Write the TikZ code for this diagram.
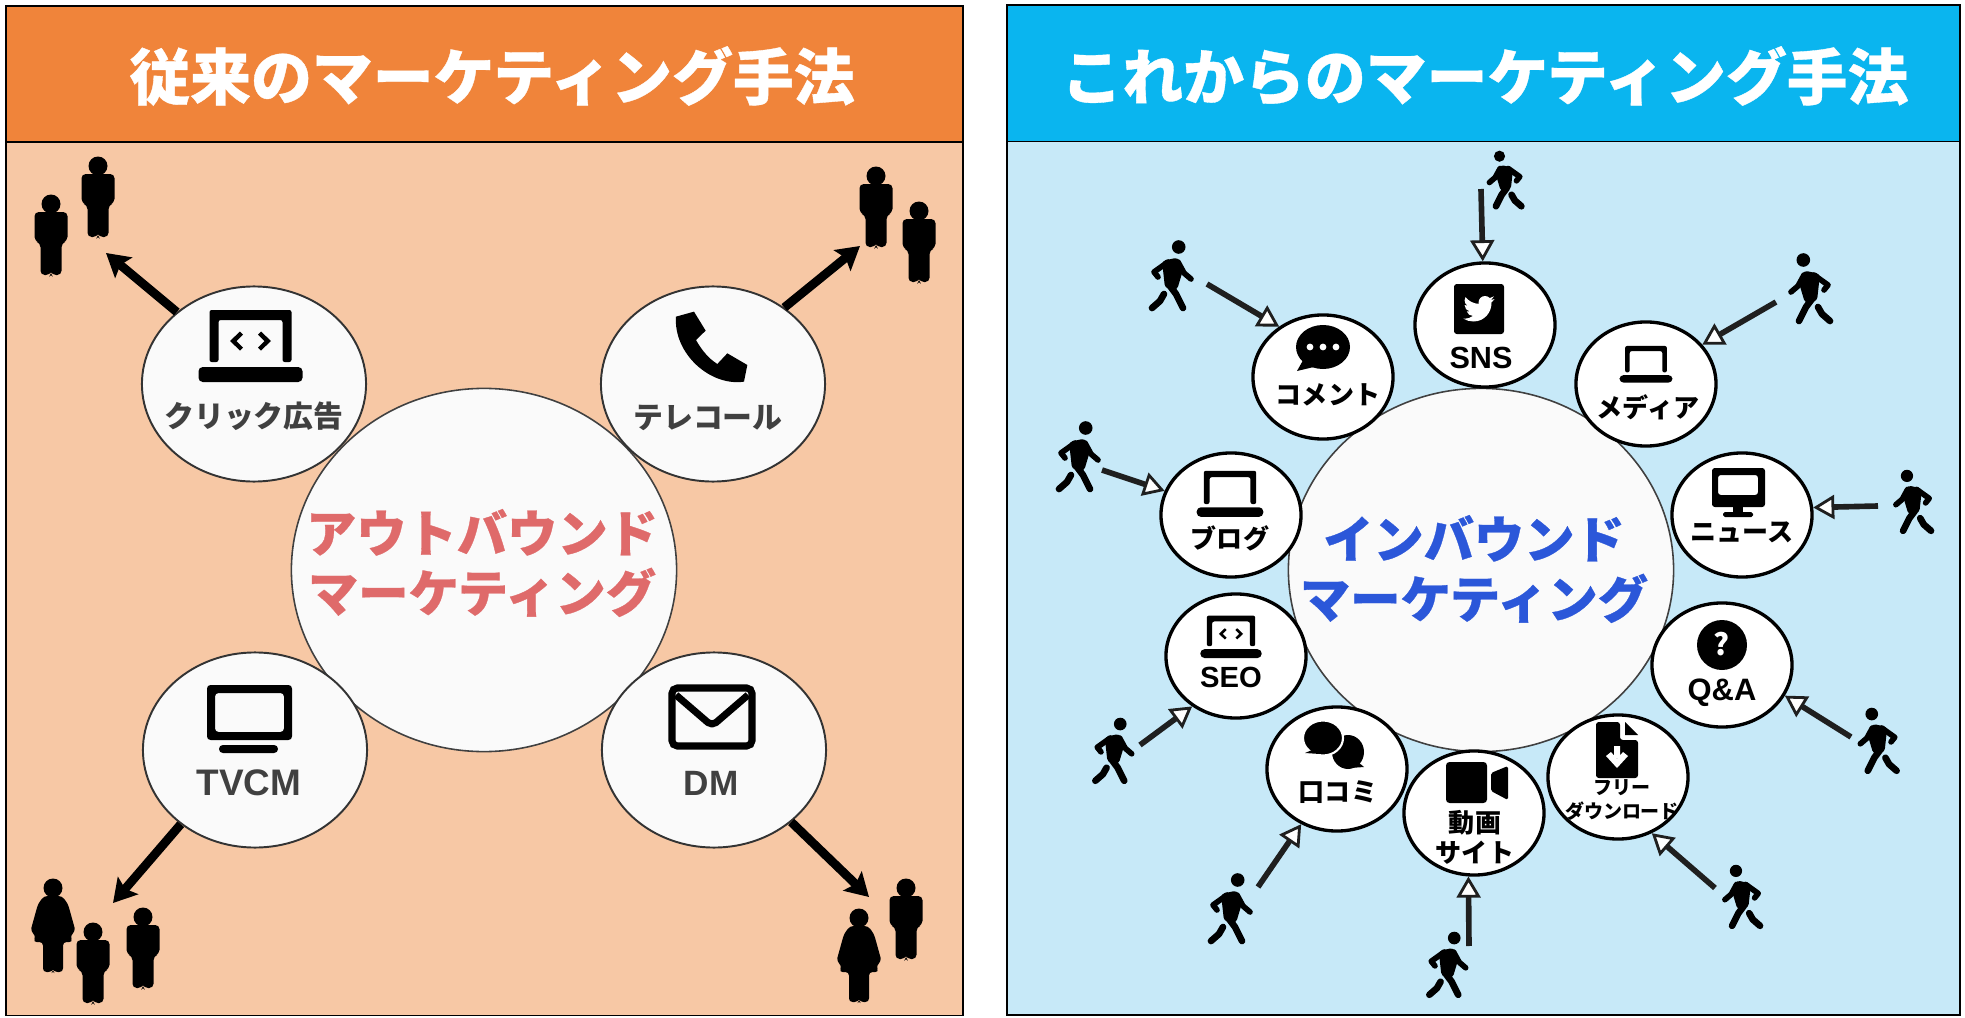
\documentclass[tikz,border=0pt]{standalone}
\usepackage{fontspec}
\setmainfont{Noto Sans CJK JP}
\newfontfamily\heavyfont{Noto Sans CJK JP}[BoldFeatures={FakeBold=0.6}]
\newfontfamily\latinfont{Liberation Sans}
\usetikzlibrary{arrows.meta,shapes.geometric}
\definecolor{oldhead}{HTML}{F0843A}
\definecolor{oldbody}{HTML}{F7C8A5}
\definecolor{newhead}{HTML}{0AB5EF}
\definecolor{newbody}{HTML}{C7E9F8}
\definecolor{softwhite}{HTML}{FAFAFA}
\definecolor{oldtext}{HTML}{404040}
\definecolor{outcolor}{HTML}{DF6A6A}
\definecolor{incolor}{HTML}{2B57D9}
\tikzset{
	panel/.style={draw=black, line width=0.45pt, rectangle, inner sep=0pt},
	titlebar/.style={text=white, font=\heavyfont\bfseries\fontsize{17.3}{20}\selectfont},
	hub/.style={draw=black!75, line width=0.45pt, ellipse, fill=softwhite, inner sep=0pt, minimum width=3.85cm, minimum height=3.63cm},
	oldsat/.style={draw=black!80, line width=0.55pt, ellipse, fill=softwhite, inner sep=0pt, minimum width=2.24cm, minimum height=1.95cm},
	newsat/.style={draw=black, line width=0.95pt, ellipse, fill=white, inner sep=0pt, minimum width=1.4cm, minimum height=1.24cm},
	hubtext/.style={align=center, font=\heavyfont\bfseries\fontsize{14.3}{17}\selectfont},
	oldtag/.style={text=oldtext, font=\fontsize{8.5}{10}\bfseries\selectfont},
	newtag/.style={align=center, font=\fontsize{7.4}{8.6}\bfseries\selectfont},
	pushline/.style={line width=2.5pt, -{Stealth[length=6.5pt,width=7.5pt,inset=1.2pt]}},
	pullline/.style={draw=black!88, line width=1.6pt, -{Triangle[open,fill=white,length=6pt,width=6.8pt,line width=0.8pt]}},
	man/.pic={
		\fill (0,0) circle[radius=9.5];
		\fill[rounded corners=1.2pt] (-16.5,8) -- (16.5,8) -- (16.5,37) -- (10.5,39) -- (10.5,71) -- (1,71) -- (0,69) -- (-1,71) -- (-10.5,71) -- (-10.5,39) -- (-16.5,37) -- cycle;
	},
	woman/.pic={
		\fill (0,0) circle[radius=9.5];
		\fill[rounded corners=1pt] (-9,8) -- (9,8) -- (15,16) -- (22.5,43) -- (17,48) -- (20,54) -- (10,54) -- (10,84) -- (1,84) -- (0,82) -- (-1,84) -- (-10,84) -- (-10,54) -- (-20,54) -- (-17,48) -- (-22.5,43) -- (-15,16) -- cycle;
	},
	walker/.pic={
		\fill (6.7,-29) circle[radius=6.8];
		\fill[rounded corners=1pt] (-10,-15) -- (6,-18.5) -- (11,-6) -- (5,14) -- (-7,12) -- cycle;
		\draw[line width=1.6pt, line cap=round, line join=round] (-4,-14) -- (-18,-4) -- (-14,1);
		\draw[line width=1.6pt, line cap=round, line join=round] (6,-14) -- (12,-3) -- (19,3);
		\draw[line width=1.9pt, line cap=round, line join=round] (-2,10) -- (4,18) -- (11,32);
		\draw[line width=1.9pt, line cap=round, line join=round] (-8,18) -- (-12,25) -- (-20,32);
	},
	laptop/.pic={
		\fill[rounded corners=0.6pt] (-41,-3) -- (-41,-55) -- (41,-55) -- (41,-3) -- (32,-3) -- (32,-45) -- (-32,-45) -- (-32,-3) -- cycle;
		\fill[rounded corners=1.2pt] (-52,2) -- (52,2) -- (52,17) -- (-52,17) -- cycle;
	},
	brackets/.pic={
		\fill (-20.5,-24) -- (-10.5,-33.5) -- (-7.5,-30.5) -- (-14,-24) -- (-7.5,-17.5) -- (-10.5,-14.5) -- cycle;
		\fill (20.5,-24) -- (10.5,-33.5) -- (7.5,-30.5) -- (14,-24) -- (7.5,-17.5) -- (10.5,-14.5) -- cycle;
	},
}
\begin{document}
\begin{tikzpicture}[x=0.01cm, y=-0.01cm]
	\useasboundingbox (0,0) rectangle (1965,1018);
	% left panel
	\node[panel, fill=oldbody, minimum width=9.57cm, minimum height=10.09cm] (oldpanel) at (484.5,510.5) {};
	\node[panel, fill=oldhead, minimum width=9.57cm, minimum height=1.36cm] (oldbar) at (484.5,74) {};
	\node[titlebar] (oldtitle) at (492,76) {従来のマーケティング手法};
	\node[hub] (outhub) at (484,570) {};
	\node[hubtext, text=outcolor] (outtext) at (482,563) {アウトバウンド\\マーケティング};
	\node[oldsat] (click) at (254,384) {};
	\node[oldsat] (tele) at (713,384) {};
	\node[oldsat] (tvcm) at (255,750) {};
	\node[oldsat] (dm) at (714,750) {};
	\node[oldtag] (clicktag) at (254,416) {クリック広告};
	\node[oldtag] (teletag) at (708,418) {テレコール};
	\node[oldtag] (tvcmtag) at (249,783) {\latinfont\bfseries\fontsize{10.5}{12}\selectfont TVCM};
	\node[oldtag] (dmtag) at (711,783) {\latinfont\bfseries\fontsize{10}{12}\selectfont DM};
	\pic at (250.5,365) {laptop};
	\pic at (250.5,365) {brackets};
	\fill[shift={(560,140)}, scale=1/3] (348,530) -- (402,515) -- (437,572) -- (408,600) .. controls (425,630) and (445,655) .. (472,672) -- (502,640) -- (562,675) -- (552,725) .. controls (450,740) and (340,640) .. cycle;
	\fill[even odd rule, rounded corners=1pt] (207,685) rectangle (292,740) (215,693) rectangle (284,732);
	\fill[rounded corners=1.1pt] (219,745) rectangle (278,753);
	\draw[line width=2pt, rounded corners=1.5pt] (672,688) rectangle (752,746);
	\draw[line width=2pt, line join=round, rounded corners=1.5pt] (676,695) -- (712,726) -- (748,695);
	\coordinate (clickend) at (106,253);
	\coordinate (teleend) at (860,246);
	\coordinate (tvcmend) at (113,903);
	\coordinate (dmend) at (869,897);
	\draw[pushline] (click.137) -- (clickend);
	\draw[pushline] (tele.47) -- (teleend);
	\draw[pushline] (tvcm.225) -- (tvcmend);
	\draw[pushline] (dm.317) -- (dmend);
	\pic at (98,166) {man};
	\pic at (51,204) {man};
	\pic at (876,176) {man};
	\pic at (919,211) {man};
	\pic at (143,917) {man};
	\pic at (93,932) {man};
	\pic at (53,888) {woman};
	\pic at (906,888) {man};
	\pic at (859,918) {woman};
	% right panel
	\node[panel, fill=newbody, minimum width=9.53cm, minimum height=10.09cm] (newpanel) at (1483.5,510) {};
	\node[panel, fill=newhead, minimum width=9.53cm, minimum height=1.36cm] (newbar) at (1483.5,73.5) {};
	\node[titlebar] (newtitle) at (1485,76) {これからのマーケティング手法};
	\node[hub] (inhub) at (1481,570) {};
	\node[hubtext, text=incolor] (intext) at (1474,569) {インバウンド\\マーケティング};
	\node[newsat] (sns) at (1485,325) {};
	\node[newsat] (media) at (1646,384) {};
	\node[newsat] (news) at (1742,515) {};
	\node[newsat] (qanda) at (1722,665) {};
	\node[newsat] (free) at (1618,777) {};
	\node[newsat] (video) at (1474,813) {};
	\node[newsat] (oral) at (1337,769) {};
	\node[newsat] (seo) at (1236,656) {};
	\node[newsat] (blog) at (1231,515) {};
	\node[newsat] (comment) at (1323,377) {};
	\node[newtag] (snstag) at (1481,358) {\latinfont\bfseries\fontsize{8.7}{10}\selectfont SNS};
	\node[newtag] (mediatag) at (1648,407) {メディア};
	\node[newtag] (newstag) at (1742,532) {ニュース};
	\node[newtag] (qandatag) at (1722,693) {\latinfont\bfseries\fontsize{8.8}{10}\selectfont Q\&A};
	\node[newtag, font=\fontsize{5.4}{6.8}\bfseries\selectfont] (freetag) at (1622,800) {フリー\\ダウンロード};
	\node[newtag, font=\fontsize{7.4}{8.5}\bfseries\selectfont] (videotag) at (1475,837) {動画\\サイト};
	\node[newtag] (oraltag) at (1338,792) {口コミ};
	\node[newtag] (seotag) at (1231,677) {\latinfont\bfseries\fontsize{8.3}{10}\selectfont SEO};
	\node[newtag] (blogtag) at (1230,538) {ブログ};
	\node[newtag] (commenttag) at (1328,395) {コメント};
	% twitter
	\fill[rounded corners=0.8pt] (1454,284) rectangle (1504,334);
	\fill[white, shift={(1461,290)}, scale=1.5] (22.46,6) .. controls (21.69,6.35) and (20.86,6.58) .. (20,6.69) .. controls (20.88,6.16) and (21.56,5.32) .. (21.88,4.31) .. controls (21.05,4.81) and (20.13,5.16) .. (19.16,5.36) .. controls (18.37,4.5) and (17.26,4) .. (16,4) .. controls (13.65,4) and (11.73,5.92) .. (11.73,8.29) .. controls (11.73,8.63) and (11.77,8.96) .. (11.84,9.27) .. controls (8.28,9.09) and (5.11,7.38) .. (3,4.79) .. controls (2.63,5.42) and (2.42,6.16) .. (2.42,6.94) .. controls (2.42,8.43) and (3.17,9.75) .. (4.33,10.5) .. controls (3.62,10.5) and (2.96,10.3) .. (2.38,10) -- (2.38,10.03) .. controls (2.38,12.11) and (3.86,13.85) .. (5.82,14.24) .. controls (5.19,14.41) and (4.53,14.44) .. (3.89,14.31) .. controls (4.42,16) and (6,17.26) .. (7.89,17.29) .. controls (6.38,18.5) and (4.5,19.13) .. (2.56,19.13) .. controls (2.23,19.13) and (1.9,19.11) .. (1.56,19.07) .. controls (3.5,20.32) and (5.8,21) .. (8.24,21) .. controls (16,21) and (20.33,14.46) .. (20.33,8.79) .. controls (20.33,8.6) and (20.33,8.42) .. (20.32,8.23) .. controls (21.16,7.63) and (21.88,6.87) .. (22.46,6) -- cycle;
	% chat
	\fill (1323,347) ellipse[x radius=27, y radius=22];
	\fill (1306,355) -- (1297,371) -- (1318,366) -- cycle;
	\foreach \dotx in {1310,1323,1336}
		\fill[white] (\dotx,347) circle[radius=3.4];
	\pic[scale=0.51] at (1646,374) {laptop};
	\pic[scale=0.64] at (1230,506) {laptop};
	\pic[scale=0.59] at (1231,648) {laptop};
	\pic[scale=0.59] at (1231,648) {brackets};
	% monitor
	\fill[even odd rule, rounded corners=0.8pt] (1712,468) rectangle (1765,507) (1718,475) rectangle (1758,495);
	\fill (1733,507) rectangle (1743,512);
	\fill[rounded corners=0.5pt] (1723,512) rectangle (1753,517);
	% question
	\fill (1722,645) circle[radius=25];
	\node[font=\fontsize{8.5}{10}\bfseries\selectfont, text=white] (qmark) at (1722,644) {?};
	% file
	\fill[rounded corners=0.8pt] (1596,722) -- (1620,722) -- (1620,740) -- (1638,740) -- (1638,778) -- (1596,778) -- cycle;
	\fill (1625,722) -- (1638,735) -- (1625,735) -- cycle;
	\fill[white] (1614,746) rectangle (1620,758) (1606,756) -- (1617,768) -- (1628,756) -- (1623,752) -- (1617,759) -- (1611,752) -- cycle;
	% camera
	\fill[rounded corners=1pt] (1446,762) rectangle (1487,803);
	\fill[rounded corners=0.5pt] (1491,773) -- (1508,766) -- (1508,800) -- (1491,791) -- cycle;
	% bubbles
	\fill (1348,752) ellipse[x radius=16, y radius=17];
	\fill (1358,762) -- (1364,767) -- (1350,768) -- cycle;
	\fill[draw=white, line width=0.6pt] (1323,738) ellipse[x radius=20, y radius=17.5];
	\fill (1312,750) -- (1305,753) -- (1320,754) -- cycle;
	\coordinate (snsfrom) at (1481,189);
	\coordinate (commentfrom) at (1207,284);
	\coordinate (blogfrom) at (1102,470);
	\coordinate (seofrom) at (1140,745);
	\coordinate (oralfrom) at (1258,887);
	\coordinate (videofrom) at (1469,946);
	\coordinate (freefrom) at (1715,888);
	\coordinate (qandafrom) at (1851,737);
	\coordinate (newsfrom) at (1878,506);
	\coordinate (mediafrom) at (1776,302);
	\draw[pullline] (snsfrom) -- (sns.92);
	\draw[pullline] (commentfrom) -- (comment.131);
	\draw[pullline] (blogfrom) -- (blog.160);
	\draw[pullline] (seofrom) -- (seo.229);
	\draw[pullline] (oralfrom) -- (oral.237);
	\draw[pullline] (videofrom) -- (video.265);
	\draw[pullline] (freefrom) -- (free.301);
	\draw[pullline] (qandafrom) -- (qanda.334);
	\draw[pullline] (newsfrom) -- (news.6);
	\draw[pullline] (mediafrom) -- (media.35);
	\pic at (1172,276) {walker};
	\pic at (1079,457) {walker};
	\pic[scale=0.93] at (1114,751) {walker};
	\pic at (1231,909) {walker};
	\pic[scale=0.93] at (1448,965) {walker};
	\pic[xscale=-0.9, yscale=0.9] at (1742,897) {walker};
	\pic[xscale=-0.93, yscale=0.93] at (1878,741) {walker};
	\pic[xscale=-0.9, yscale=0.9] at (1913,502) {walker};
	\pic[xscale=-1, yscale=1] at (1810,289) {walker};
	\pic[xscale=-0.82, yscale=0.82] at (1505,180) {walker};
\end{tikzpicture}
\end{document}
